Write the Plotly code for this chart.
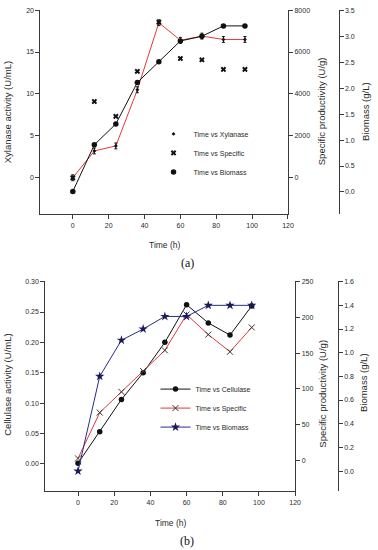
import plotly.graph_objects as go

# ---------------- data ----------------
time_h = [0, 12, 24, 36, 48, 60, 72, 84, 96]

# panel (a)
xylanase = [0.0, 3.2, 3.8, 10.5, 18.5, 16.4, 16.9, 16.5, 16.5]
xylanase_err = [0.35, 0.35, 0.35, 0.35, 0.35, 0.35, 0.35, 0.35, 0.35]
specific_a = [0, 3640, 2930, 5080, 7420, 5690, 5630, 5170, 5170]
biomass_a = [0.01, 0.91, 1.31, 2.11, 2.51, 2.91, 3.0, 3.2, 3.2]

# panel (b)
cellulase = [0.001, 0.053, 0.106, 0.150, 0.200, 0.262, 0.232, 0.212, 0.260]
specific_b = [3, 67, 96, 125, 154, 204, 176, 152, 186]
biomass_b = [0.0, 0.80, 1.105, 1.20, 1.306, 1.306, 1.40, 1.40, 1.40]

W, H = 378, 550
FONT = "Liberation Sans, Arial, sans-serif"
TXT = "#2a2a2a"
AX = "#3a3a3a"
RED = "#e0393b"
BLUE = "#2b2b8c"


def py(px):
    return 1 - px / H


def px_x(px):
    return px / W


fig = go.Figure()

# ---- panel (a) ----
fig.add_trace(go.Scatter(x=time_h, y=xylanase, mode="lines", line=dict(color=RED, width=1),
                         xaxis="x", yaxis="y", showlegend=False, hoverinfo="skip"))
fig.add_trace(go.Scatter(x=time_h, y=xylanase, mode="markers", name="Time vs Xylanase",
                         marker=dict(symbol="diamond", size=3, color="#111"),
                         error_y=dict(type="data", array=xylanase_err, width=1.5, thickness=1, color="#111"),
                         xaxis="x", yaxis="y", legend="legend"))
fig.add_trace(go.Scatter(x=time_h, y=specific_a, mode="markers", name="Time vs Specific",
                         marker=dict(symbol="x", size=5, color="#111"),
                         xaxis="x", yaxis="y2", legend="legend"))
fig.add_trace(go.Scatter(x=time_h, y=biomass_a, mode="lines", line=dict(color="#111", width=1),
                         xaxis="x", yaxis="y3", showlegend=False, hoverinfo="skip"))
fig.add_trace(go.Scatter(x=time_h, y=biomass_a, mode="markers", name="Time vs Biomass",
                         marker=dict(symbol="circle", size=5.5, color="#111"),
                         xaxis="x", yaxis="y3", legend="legend"))

# ---- panel (b) ----
fig.add_trace(go.Scatter(x=time_h, y=cellulase, mode="lines+markers", name="Time vs Cellulase",
                         line=dict(color="#111", width=1),
                         marker=dict(symbol="circle", size=5.5, color="#111"),
                         xaxis="x2", yaxis="y4", legend="legend2"))
fig.add_trace(go.Scatter(x=time_h, y=specific_b, mode="lines+markers", name="Time vs Specific",
                         line=dict(color=RED, width=1),
                         marker=dict(symbol="x-thin-open", size=6, color="#333",
                                     line=dict(width=1, color="#333")),
                         xaxis="x2", yaxis="y5", legend="legend2"))
fig.add_trace(go.Scatter(x=time_h, y=biomass_b, mode="lines+markers", name="Time vs Biomass",
                         line=dict(color=BLUE, width=1),
                         marker=dict(symbol="star", size=7, color="#1a1a5a"),
                         xaxis="x2", yaxis="y6", legend="legend2"))

tickfont = dict(family=FONT, size=7, color=TXT)
common = dict(showline=True, linecolor=AX, linewidth=1, ticks="outside", ticklen=4,
              tickcolor=AX, tickwidth=1, showgrid=False, zeroline=False, tickfont=tickfont)

dom_a_x = [px_x(41), px_x(292.7)]
dom_a_y = [py(212.3), py(7)]
dom_b_x = [px_x(46), px_x(300)]
dom_b_y = [py(491), py(280)]

fig.update_layout(
    width=W, height=H,
    margin=dict(l=0, r=0, t=0, b=0),
    paper_bgcolor="white", plot_bgcolor="rgba(0,0,0,0)",
    font=dict(family=FONT, color=TXT),
    xaxis=dict(domain=dom_a_x, anchor="y", range=[-18.1, 120.05], tick0=0, dtick=20, **common),
    yaxis=dict(domain=dom_a_y, anchor="x", range=[-4.34, 20.02], tick0=0, dtick=5, **common),
    yaxis2=dict(domain=dom_a_y, anchor="x", overlaying="y", side="right",
                range=[-1736, 8008], tick0=0, dtick=2000, **common),
    yaxis3=dict(domain=dom_a_y, anchor="free", overlaying="y", side="right",
                position=px_x(344), range=[-0.427, 3.507], tick0=0, dtick=0.5,
                tickformat=".1f", **common),
    xaxis2=dict(domain=dom_b_x, anchor="y4", range=[-18.1, 120.05], tick0=0, dtick=20, **common),
    yaxis4=dict(domain=dom_b_y, anchor="x2", range=[-0.0453, 0.3003], tick0=0, dtick=0.05,
                tickformat=".2f", **common),
    yaxis5=dict(domain=dom_b_y, anchor="x2", overlaying="y4", side="right",
                range=[-43, 250.2], tick0=0, dtick=50, **common),
    yaxis6=dict(domain=dom_b_y, anchor="free", overlaying="y4", side="right",
                position=px_x(343.3), range=[-0.171, 1.6015], tick0=0, dtick=0.2,
                tickformat=".1f", **common),
    legend=dict(x=px_x(156), y=py(150.7), xanchor="left", yanchor="middle",
                font=dict(family=FONT, size=7, color=TXT), bgcolor="rgba(0,0,0,0)",
                tracegroupgap=0),
    legend2=dict(x=px_x(158), y=py(407.3), xanchor="left", yanchor="middle",
                 font=dict(family=FONT, size=7, color=TXT), bgcolor="rgba(0,0,0,0)",
                 tracegroupgap=0),
)

title_font = dict(family=FONT, size=9.5, color=TXT)
serif_font = dict(family="Liberation Serif, Times New Roman, serif", size=12, color="#111")
anns = [
    ("Xylanase activity (U/mL)", 8, 110, -90, title_font),
    ("Specific productivity (U/g)", 327, 109, -90, title_font),
    ("Biomass (g/L)", 371.5, 109, -90, title_font),
    ("Time (h)", 167, 243, 0, dict(family=FONT, size=8.5, color=TXT)),
    ("(a)", 191, 261, 0, serif_font),
    ("Cellulase activity (U/mL)", 8, 384, -90, title_font),
    ("Specific productivity (U/g)", 328, 393, -90, title_font),
    ("Biomass (g/L)", 370, 382, -90, title_font),
    ("Time (h)", 173, 522.7, 0, dict(family=FONT, size=8.5, color=TXT)),
    ("(b)", 190, 540.7, 0, serif_font),
]
for text, x, y, ang, f in anns:
    fig.add_annotation(text=text, x=px_x(x), y=py(y), xref="paper", yref="paper",
                       showarrow=False, textangle=ang, font=f,
                       xanchor="center", yanchor="middle")

fig.write_html("out.html",
               config={"displayModeBar": False},
               post_script="document.body.style.margin='0';document.body.style.overflow='hidden';")
